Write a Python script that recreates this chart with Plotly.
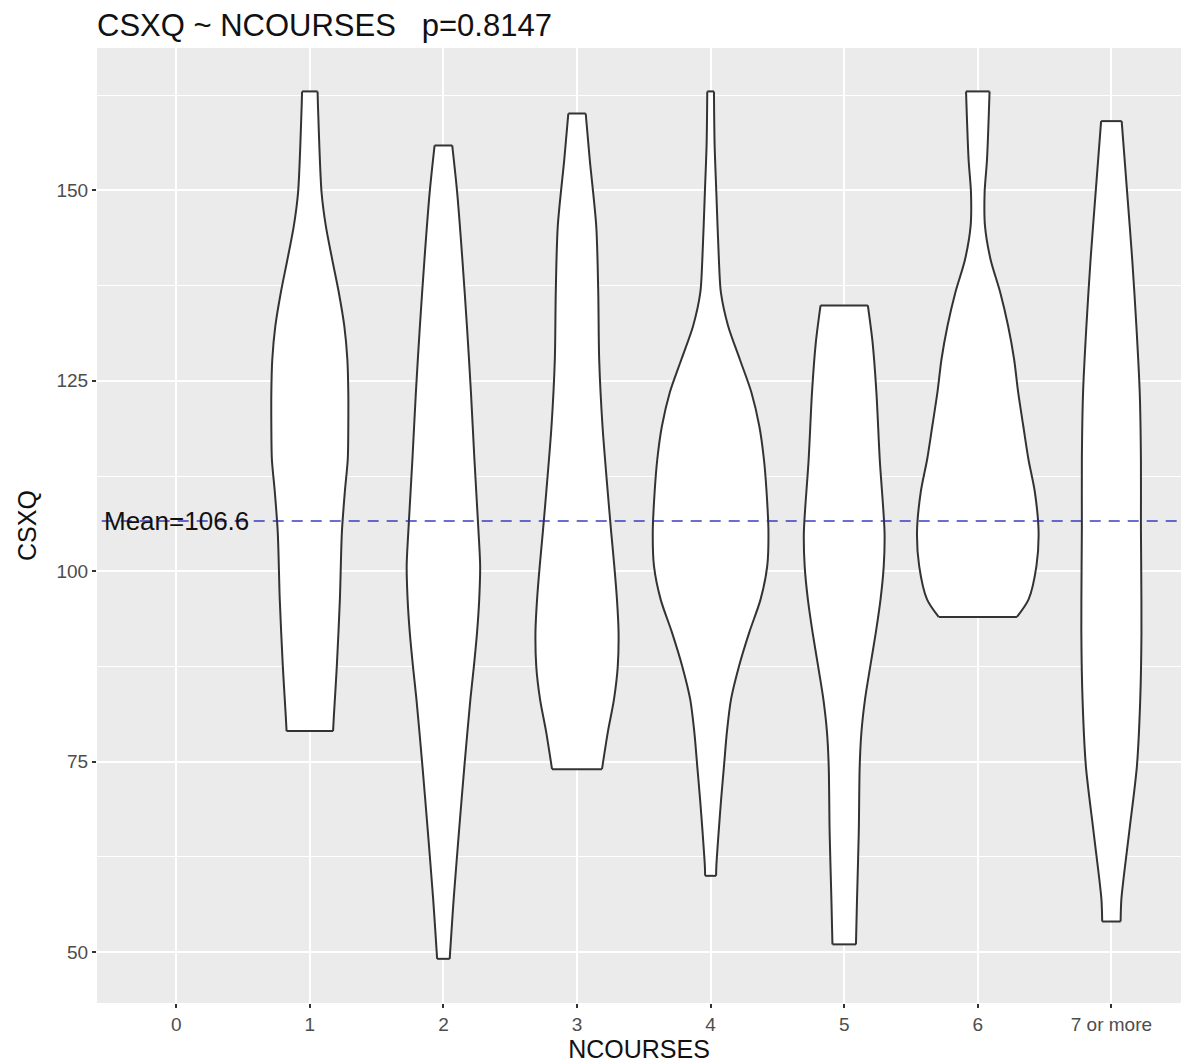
import plotly.graph_objects as go

# ---- data -------------------------------------------------------------
categories = ["0", "1", "2", "3", "4", "5", "6", "7 or more"]
mean_csxq = 106.6
p_value = 0.8147

# Violin outlines: CSXQ level (bottom -> top) and the density half-width
# at that level, in units of one category slot.
csxq_1 = [79.0, 81.0, 87.5, 96.3, 105.1, 110.4, 114.7, 119.0, 123.5, 127.8, 132.2, 136.6, 140.9, 145.3, 149.7, 160.6, 163.0]
half_1 = [0.174, 0.180, 0.202, 0.225, 0.240, 0.262, 0.284, 0.288, 0.288, 0.281, 0.258, 0.217, 0.168, 0.120, 0.088, 0.062, 0.058]

csxq_2 = [49.1, 52.6, 57.0, 65.7, 74.4, 83.2, 87.5, 92.0, 96.3, 100.7, 105.1, 114.7, 123.5, 132.2, 140.9, 149.7, 155.9]
half_2 = [0.047, 0.060, 0.077, 0.116, 0.157, 0.202, 0.228, 0.252, 0.268, 0.275, 0.263, 0.232, 0.206, 0.176, 0.142, 0.103, 0.066]

csxq_3 = [74.0, 78.9, 83.2, 87.5, 92.0, 96.3, 100.7, 105.1, 110.4, 119.0, 127.8, 136.6, 145.3, 154.1, 160.1]
half_3 = [0.187, 0.231, 0.277, 0.305, 0.311, 0.299, 0.279, 0.256, 0.230, 0.191, 0.166, 0.159, 0.144, 0.095, 0.065]

csxq_4 = [60.0, 61.3, 65.7, 70.1, 74.4, 78.9, 83.2, 87.5, 92.0, 96.3, 100.7, 105.1, 110.4, 114.7, 119.0, 123.5, 127.8, 132.2, 136.6, 140.9, 149.7, 156.0, 163.0]
half_4 = [0.041, 0.043, 0.060, 0.079, 0.100, 0.122, 0.153, 0.212, 0.290, 0.374, 0.424, 0.433, 0.419, 0.399, 0.365, 0.305, 0.219, 0.131, 0.077, 0.062, 0.043, 0.030, 0.025]

csxq_5 = [51.0, 57.0, 65.7, 74.4, 78.9, 83.2, 87.5, 92.0, 96.3, 100.7, 105.1, 114.7, 123.5, 130.1, 134.9]
half_5 = [0.088, 0.096, 0.109, 0.116, 0.129, 0.156, 0.195, 0.237, 0.272, 0.296, 0.302, 0.266, 0.241, 0.212, 0.177]

csxq_6 = [94.0, 96.3, 100.7, 105.1, 110.4, 114.7, 119.0, 123.5, 127.8, 132.2, 136.6, 140.9, 145.3, 149.7, 154.1, 163.0]
half_6 = [0.293, 0.380, 0.439, 0.455, 0.427, 0.379, 0.341, 0.302, 0.272, 0.227, 0.168, 0.096, 0.054, 0.051, 0.069, 0.088]

csxq_7 = [54.0, 57.0, 65.7, 74.4, 83.2, 92.0, 100.7, 105.9, 114.7, 123.5, 132.2, 140.9, 149.7, 159.1]
half_7 = [0.069, 0.075, 0.133, 0.191, 0.216, 0.225, 0.223, 0.221, 0.221, 0.212, 0.187, 0.156, 0.118, 0.077]

groups = [
    ("1", csxq_1, half_1),
    ("2", csxq_2, half_2),
    ("3", csxq_3, half_3),
    ("4", csxq_4, half_4),
    ("5", csxq_5, half_5),
    ("6", csxq_6, half_6),
    ("7 or more", csxq_7, half_7),
]

FONT = "Liberation Sans, Arial, sans-serif"
EDGE = dict(color="#333333", width=2)

# ---- figure -----------------------------------------------------------
fig = go.Figure()


def add(trace):
    trace.update(hoverinfo="skip", showlegend=False)
    fig.add_trace(trace)


for label, levels, half in groups:
    pos = categories.index(label)
    lo, hi = levels[0], levels[-1]
    centre = [pos] * len(levels)

    # white body underneath (straight-segment outline, no edge)
    add(go.Scatter(
        x=[pos + h for h in half] + [pos - h for h in reversed(half)],
        y=list(levels) + list(reversed(levels)),
        mode="lines", fill="toself", fillcolor="white",
        line=dict(width=0, color="white"),
    ))

    # smooth right and left flanks, each filled back to the centre line
    for sign in (1, -1):
        add(go.Scatter(x=centre, y=levels, mode="lines",
                       line=dict(width=0, color="rgba(0,0,0,0)")))
        add(go.Scatter(
            x=[pos + sign * h for h in half], y=levels, mode="lines",
            fill="tonextx", fillcolor="white",
            line=dict(EDGE, shape="spline", smoothing=0.8),
        ))

    # flat caps at the observed minimum and maximum
    add(go.Scatter(x=[pos - half[0], pos + half[0]], y=[lo, lo],
                   mode="lines", line=EDGE))
    add(go.Scatter(x=[pos - half[-1], pos + half[-1]], y=[hi, hi],
                   mode="lines", line=EDGE))

# overall mean reference line
add(go.Scatter(
    x=[-0.7, len(categories)], y=[mean_csxq, mean_csxq], mode="lines",
    line=dict(color="rgba(40,40,185,0.9)", width=1.5, dash="11px,8px"),
))

fig.add_annotation(
    x=0, y=mean_csxq, text=f"Mean={mean_csxq}", showarrow=False,
    font=dict(family=FONT, size=26, color="#111111"),
    xanchor="center", yanchor="middle",
)

fig.update_layout(
    width=1181, height=1063,
    margin=dict(l=97, r=0, t=48, b=60),
    paper_bgcolor="white",
    plot_bgcolor="#EBEBEB",
    font=dict(family=FONT),
    title=dict(
        text=f"CSXQ ~ NCOURSES   p={p_value}",
        x=97 / 1181, xanchor="left", xref="container",
        y=1 - 25 / 1063, yanchor="middle", yref="container",
        font=dict(size=31, color="#111111"),
    ),
    xaxis=dict(
        range=[-0.593, 7.521],
        tickvals=list(range(len(categories))), ticktext=categories,
        showgrid=True, gridcolor="white", gridwidth=2,
        zeroline=False, showline=False,
        ticks="outside", ticklen=4, tickwidth=1.5, tickcolor="#333333",
        tickfont=dict(size=19, color="#4D4D4D"),
        title=dict(text="NCOURSES", font=dict(size=25, color="#111111"), standoff=6),
    ),
    yaxis=dict(
        range=[43.3, 168.7],
        tick0=50, dtick=25,
        showgrid=True, gridcolor="white", gridwidth=2,
        minor=dict(dtick=12.5, tick0=50, showgrid=True, gridcolor="white", gridwidth=1),
        zeroline=False, showline=False,
        ticks="outside", ticklen=4, tickwidth=1.5, tickcolor="#333333",
        tickfont=dict(size=19, color="#4D4D4D"),
        title=dict(text="CSXQ", font=dict(size=25, color="#111111"), standoff=12),
    ),
)

fig.write_html("out.html")
